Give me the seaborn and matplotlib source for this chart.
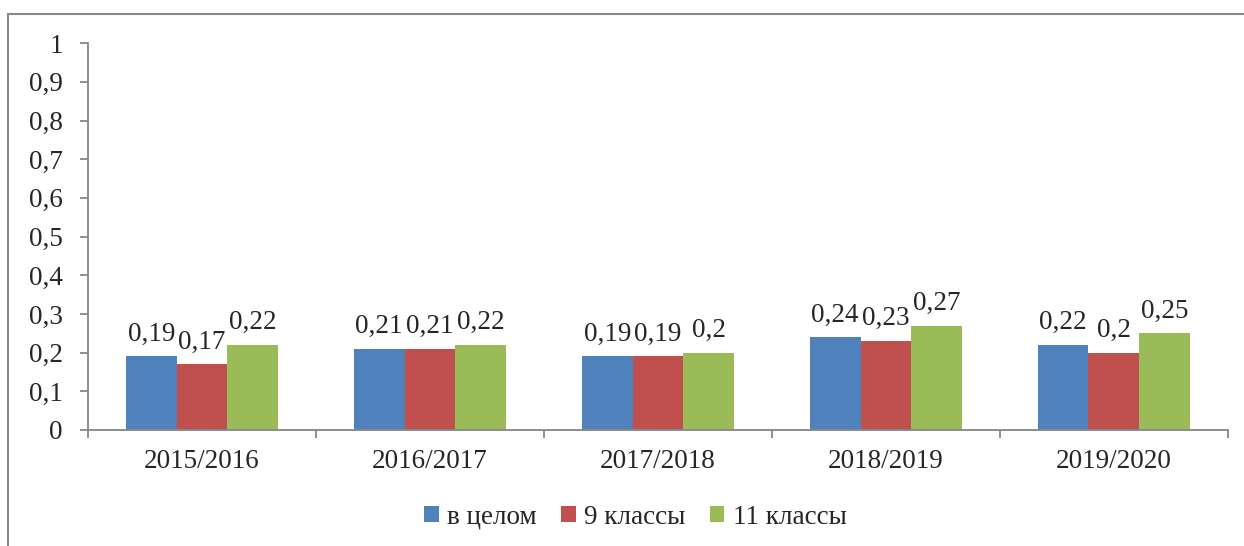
import pandas as pd
import matplotlib.pyplot as plt
import seaborn as sns
from matplotlib.patches import Rectangle

# Данные диаграммы
years = ['2015/2016', '2016/2017', '2017/2018', '2018/2019', '2019/2020']
series_names = ['в целом', '9 классы', '11 классы']
v_total = [0.19, 0.21, 0.19, 0.24, 0.22]
v_9 = [0.17, 0.21, 0.19, 0.23, 0.20]
v_11 = [0.22, 0.22, 0.20, 0.27, 0.25]
colors = ['#4F81BD', '#C0504D', '#9BBB59']
y_ticks = [0, 0.1, 0.2, 0.3, 0.4, 0.5, 0.6, 0.7, 0.8, 0.9, 1]

df = pd.DataFrame({
    'year': years * 3,
    'series': [s for s in series_names for _ in years],
    'value': v_total + v_9 + v_11,
})

sns.set_style('white')
plt.rcParams['font.family'] = ['Liberation Serif', 'DejaVu Serif']
FS = 19.5

fig = plt.figure(figsize=(12.44, 5.46), dpi=100)
ax = fig.add_axes([0.0707, 0.2125, 0.9163, 0.7085])

sns.barplot(data=df, x='year', y='value', hue='series', palette=colors,
            width=0.667, gap=0, ax=ax, edgecolor='none', saturation=1)


def fmt(v):
    return ('%g' % v).replace('.', ',')


for cont in ax.containers:
    ax.bar_label(cont, labels=[fmt(b.get_height()) for b in cont],
                 fontsize=FS, padding=7)

ax.set_ylim(0, 1)
ax.set_yticks(y_ticks)
ax.set_yticklabels([fmt(t) for t in y_ticks], fontsize=FS)
ax.set_xlim(-0.5, len(years) - 0.5)
ax.set_xticks(range(len(years)))
ax.set_xticklabels(years, fontsize=FS)
ax.tick_params(axis='x', length=0, pad=14)
ax.tick_params(axis='y', length=6, width=1.3, color='#868686', left=True, pad=12)
# отметки между категориями
ax.set_xticks([i - 0.5 for i in range(len(years) + 1)], minor=True)
ax.tick_params(axis='x', which='minor', length=6, width=1.3, color='#868686',
               bottom=True)
ax.set_xlabel('')
ax.set_ylabel('')

for side in ['top', 'right']:
    ax.spines[side].set_visible(False)
for side in ['left', 'bottom']:
    ax.spines[side].set_color('#868686')
    ax.spines[side].set_linewidth(1.3)

ax.legend(loc='center', bbox_to_anchor=(0.48, -0.225), ncol=3, frameon=False,
          fontsize=FS, handlelength=0.55, handleheight=0.55, handletextpad=0.3,
          columnspacing=0.9)

# рамка области диаграммы
fig.patches.append(Rectangle((0.0064, -0.02), 1.05, 0.994, transform=fig.transFigure,
                             fill=False, edgecolor='#888888', linewidth=1.5))

plt.savefig('out.png', dpi=100)
